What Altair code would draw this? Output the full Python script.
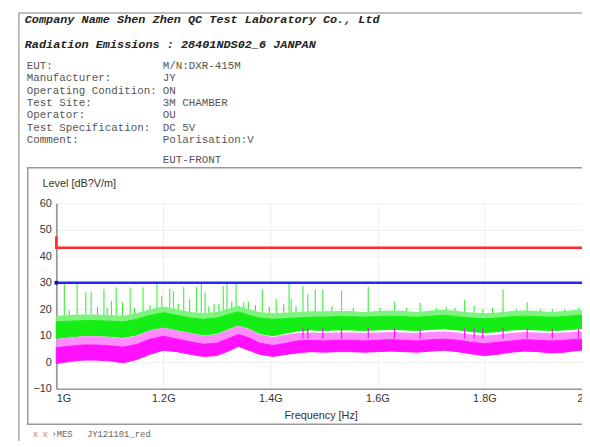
import altair as alt
import pandas as pd

# ---------------- data ----------------
FREQ = [1.000, 1.025, 1.050, 1.075, 1.100, 1.125, 1.150, 1.175, 1.200, 1.225, 1.250,
        1.275, 1.300, 1.325, 1.340, 1.360, 1.380, 1.405, 1.425, 1.450, 1.475, 1.500,
        1.525, 1.550, 1.575, 1.600, 1.625, 1.650, 1.675, 1.700, 1.725, 1.750, 1.775,
        1.800, 1.825, 1.850, 1.875, 1.900, 1.925, 1.950, 1.975, 2.000]
# magenta trace: bottom, top of solid part, top of the comb-like fringe
MAG_LO = [-0.5, 0.3, 0.8, 0.8, 0.5, -0.2, 1.0, 3.0, 4.5, 4.0, 3.0, 2.2, 2.5, 4.5, 6.0,
          4.5, 3.0, 2.2, 2.8, 3.5, 4.0, 3.8, 4.0, 4.0, 3.8, 4.0, 4.2, 4.0, 3.8, 4.2,
          4.5, 4.0, 3.2, 2.5, 3.0, 3.8, 4.2, 4.0, 3.5, 3.8, 4.5, 4.5]
MAG_MID = [5.5, 6.0, 6.5, 6.5, 6.2, 5.7, 6.7, 8.7, 9.8, 8.8, 7.7, 6.8, 7.2, 9.2, 10.5,
           9.2, 7.2, 6.3, 7.0, 8.0, 8.3, 8.0, 8.3, 8.3, 8.0, 8.3, 8.5, 8.3, 8.0, 8.5,
           8.7, 8.3, 7.5, 7.0, 7.5, 8.0, 8.5, 8.3, 8.0, 8.3, 8.7, 8.7]
MAG_HI = [8.8, 9.3, 9.8, 9.8, 9.5, 9.0, 10.0, 12.0, 13.0, 12.0, 11.0, 10.0, 10.5, 12.5, 13.8,
          12.5, 10.5, 9.5, 10.3, 11.0, 11.2, 11.0, 11.2, 11.2, 11.0, 11.2, 11.4, 11.2, 11.0,
          11.4, 11.6, 11.2, 10.5, 10.0, 10.5, 11.0, 11.4, 11.2, 11.0, 11.2, 11.6, 11.6]
# green trace: bottom, top of solid part, top of the spiky fringe
GRN_LO = [9.0, 9.5, 10.0, 10.0, 9.8, 9.3, 10.3, 12.2, 13.2, 12.2, 11.2, 10.3, 10.8, 12.8, 14.0,
          12.8, 10.8, 10.0, 10.8, 11.8, 12.2, 12.0, 12.2, 12.2, 12.0, 12.2, 12.4, 12.2, 12.0,
          12.4, 12.6, 12.2, 11.6, 11.2, 11.6, 12.2, 12.4, 12.2, 12.0, 12.2, 12.6, 12.6]
GRN_HI = [15.2, 15.5, 15.7, 15.7, 15.5, 15.2, 16.2, 17.7, 18.7, 17.7, 16.7, 16.2, 16.7, 18.2,
          19.0, 17.7, 16.7, 16.2, 16.4, 16.7, 17.0, 17.0, 17.2, 17.2, 17.0, 17.2, 17.4, 17.2,
          17.0, 17.4, 17.7, 17.2, 16.7, 16.4, 16.7, 17.2, 17.4, 17.2, 17.0, 17.2, 17.7, 17.7]
GRN_TOP = [17.5, 17.8, 18.0, 18.0, 17.8, 17.5, 18.5, 20.0, 21.0, 20.0, 19.0, 18.5, 19.0, 20.5,
           21.3, 20.0, 19.0, 18.5, 18.7, 19.0, 19.2, 19.2, 19.3, 19.3, 19.0, 19.3, 19.5, 19.3,
           19.0, 19.5, 19.8, 19.3, 18.8, 18.5, 18.8, 19.3, 19.5, 19.3, 19.0, 19.3, 19.8, 19.8]

GREEN_SPIKE_F = [1.015, 1.039, 1.055, 1.065, 1.089, 1.103, 1.112, 1.138, 1.162, 1.188, 1.197,
                 1.212, 1.219, 1.238, 1.249, 1.262, 1.271, 1.278, 1.295, 1.312, 1.319, 1.336,
                 1.350, 1.359, 1.385, 1.411, 1.435, 1.439, 1.461, 1.470, 1.484, 1.498, 1.533,
                 1.583, 1.632, 1.680, 1.729, 1.763, 1.781, 1.797, 1.835, 1.880, 1.927, 1.976]
GREEN_SPIKE_DB = [29.4, 29.4, 26.4, 26.6, 27.6, 23.1, 28.3, 28.3, 28.3, 29.8, 24.9,
                  27.7, 26.9, 28.4, 23.8, 28.4, 29.4, 26.3, 22.0, 28.8, 29.4, 30.0,
                  22.6, 22.8, 27.5, 23.8, 30.0, 23.8, 28.8, 25.7, 27.5, 27.5, 26.9,
                  28.5, 22.8, 22.5, 20.8, 23.5, 21.3, 20.1, 27.4, 22.6, 20.1, 20.5]
GREEN_MINOR_F = [1.024, 1.077, 1.095, 1.124, 1.146, 1.175, 1.228, 1.285, 1.304, 1.328, 1.372,
                 1.398, 1.425, 1.448, 1.515, 1.555, 1.605, 1.655, 1.710, 1.745, 1.815, 1.860,
                 1.905, 1.950]
GREEN_MINOR_DB = [19.5, 21.0, 20.5, 22.7, 20.5, 21.5, 22.0, 21.0, 22.0, 23.0, 21.5,
                  21.0, 22.0, 21.0, 21.0, 20.5, 20.5, 20.5, 20.5, 20.5, 20.5, 20.0,
                  20.0, 20.0]
MAG_SPIKE_F = [1.461, 1.470, 1.498, 1.533, 1.583, 1.632, 1.680, 1.763, 1.781, 1.797, 1.835,
               1.880, 1.927, 1.976]
MAG_SPIKE_DB = [12.8, 12.8, 12.8, 12.8, 13.2, 12.8, 12.6, 12.8, 12.8, 12.6, 13.0, 12.8,
                12.6, 12.8]

RED_F = [1.0, 1.0, 2.0]
RED_DB = [47.6, 43.2, 43.2]
BLUE_F = [1.0, 2.0]
BLUE_DB = [30.0, 30.0]

X_TICKS = [1.0, 1.2, 1.4, 1.6, 1.8, 2.0]
Y_TICKS = [-10, 0, 10, 20, 30, 40, 50, 60]

INFO_LABELS = ["EUT:", "Manufacturer:", "Operating Condition:", "Test Site:",
               "Operator:", "Test Specification:", "Comment:"]
INFO_VALUES = ["M/N:DXR-415M", "JY", "ON", "3M CHAMBER", "OU", "DC 5V", "Polarisation:V"]

# ---------------- chart ----------------
MONO = "Liberation Mono"
SANS = "Liberation Sans"
xs = alt.Scale(domain=[1.0, 2.0], nice=False, zero=False)
ys = alt.Scale(domain=[-10, 60], nice=False, zero=False)

X_AX = alt.Axis(
    values=X_TICKS, labelExpr="datum.value + 'G'", grid=True, gridColor="#eeeeee",
    ticks=False, domainColor="#999999", domainWidth=1.5, labelFont=SANS,
    labelFontSize=11, labelColor="#333333", labelPadding=4, labelFlush=True,
    title="Frequency [Hz]", titleFont=SANS, titleFontSize=11, titleFontWeight="normal",
    titleColor="#333333", titlePadding=6, titleX=268)
Y_AX = alt.Axis(
    values=Y_TICKS, grid=True, gridColor="#eeeeee", ticks=False, domainColor="#999999",
    domainWidth=1.8, labelFont=SANS, labelFontSize=11, labelColor="#333333",
    labelPadding=5, title=None)

band = pd.DataFrame({"f": FREQ, "mlo": MAG_LO, "mmid": MAG_MID, "mhi": MAG_HI,
                     "glo": GRN_LO, "ghi": GRN_HI, "gtop": GRN_TOP})
gsp = pd.DataFrame({"f": GREEN_SPIKE_F, "top": GREEN_SPIKE_DB})
gmin = pd.DataFrame({"f": GREEN_MINOR_F, "top": GREEN_MINOR_DB})
msp = pd.DataFrame({"f": MAG_SPIKE_F, "top": MAG_SPIKE_DB})
red = pd.DataFrame({"f": RED_F, "db": RED_DB, "i": list(range(len(RED_F)))})
blue = pd.DataFrame({"f": BLUE_F, "db": BLUE_DB, "i": list(range(len(BLUE_F)))})

one = pd.DataFrame({"a": [0]})


def X(field):
    return alt.X(field, scale=xs, axis=X_AX)


def Y(field):
    return alt.Y(field, scale=ys, axis=Y_AX)


def frame(x, x2, y, y2, color):
    return alt.Chart(one).mark_rect(fillOpacity=0, stroke=color, strokeWidth=1.5).encode(
        x=alt.value(x), x2=alt.value(x2), y=alt.value(y), y2=alt.value(y2))


def txt(s, x, y, size=11, font=MONO, color="#555555", weight="normal", style="normal",
        align="left"):
    return alt.Chart(pd.DataFrame({"t": [s]})).mark_text(
        align=align, baseline="middle", font=font, fontSize=size, fontWeight=weight,
        fontStyle=style, color=color).encode(text="t:N", x=alt.value(x), y=alt.value(y))


GREEN = "#14ee14"
GREEN_LIGHT = "#7ef47e"
MAGENTA = "#ff10ff"
MAGENTA_LIGHT = "#ff8cff"

green_fringe = alt.Chart(band).mark_area(color=GREEN_LIGHT).encode(
    x=X("f:Q"), y=Y("ghi:Q"), y2="gtop:Q")
green_area = alt.Chart(band).mark_area(color=GREEN, stroke=GREEN, strokeWidth=1).encode(
    x=X("f:Q"), y=Y("glo:Q"), y2="ghi:Q")
green_spikes = alt.Chart(gsp).mark_rule(color="#4cf04c", strokeWidth=1.2).encode(
    x=X("f:Q"), y=Y("top:Q"), y2=alt.datum(15))
green_minor = alt.Chart(gmin).mark_rule(color=GREEN, strokeWidth=1).encode(
    x=X("f:Q"), y=Y("top:Q"), y2=alt.datum(15))
mag_comb = alt.Chart(band).mark_area(color=MAGENTA_LIGHT).encode(
    x=X("f:Q"), y=Y("mmid:Q"), y2="mhi:Q")
mag_area = alt.Chart(band).mark_area(color=MAGENTA, stroke=MAGENTA, strokeWidth=1).encode(
    x=X("f:Q"), y=Y("mlo:Q"), y2="mmid:Q")
mag_spikes = alt.Chart(msp).mark_rule(color=MAGENTA, strokeWidth=1.2).encode(
    x=X("f:Q"), y=Y("top:Q"), y2=alt.datum(9))
red_line = alt.Chart(red).mark_line(color="#ff2a2a", strokeWidth=2.6).encode(
    x=X("f:Q"), y=Y("db:Q"), order="i:O")
blue_line = alt.Chart(blue).mark_line(color="#2424ff", strokeWidth=2.6).encode(
    x=X("f:Q"), y=Y("db:Q"), order="i:O")
blue_mark = alt.Chart(blue.iloc[:1]).mark_square(color="#1010b0", size=14, opacity=1).encode(
    x=X("f:Q"), y=Y("db:Q"))

layers = [
    frame(-38, 640, -193, 300, "#aaaaaa"),
    frame(-29, 640, -36, 224, "#999999"),
    green_minor, green_spikes, green_fringe, green_area, mag_comb, mag_area, mag_spikes,
    red_line, blue_line, blue_mark,
    txt("Company Name Shen Zhen QC Test Laboratory Co., Ltd", -32, -187, size=12,
        color="#222222", weight="bold", style="italic"),
    txt("Radiation Emissions :  28401NDS02_6 JANPAN", -32, -161, size=12,
        color="#222222", weight="bold", style="italic"),
]
for k, (lab, val) in enumerate(zip(INFO_LABELS, INFO_VALUES)):
    yy = -139 + 12.5 * k
    layers.append(txt(lab, -30, yy))
    layers.append(txt(val, 108, yy))
layers.append(txt("EUT-FRONT", 108, -44))
layers.append(txt("Level [dB?V/m]", -14, -20, font=SANS, color="#333333"))
layers.append(txt("x", -24, 234, size=9, color="#e07070"))
layers.append(txt("x", -14, 234, size=9, color="#e07070"))
layers.append(txt("\u203aMES", -5, 234, size=9, color="#666666"))
layers.append(txt("JY121101_red", 31, 234, size=9, color="#666666"))

chart = alt.layer(*layers).properties(
    width=542.5, height=188,
    padding={"left": 49, "top": 195, "right": -9.5, "bottom": 50},
    autosize=alt.AutoSizeParams(type="none"),
    background="white",
).configure_view(stroke=None)

chart.save("out.html", embed_options={"renderer": "svg", "actions": False})
